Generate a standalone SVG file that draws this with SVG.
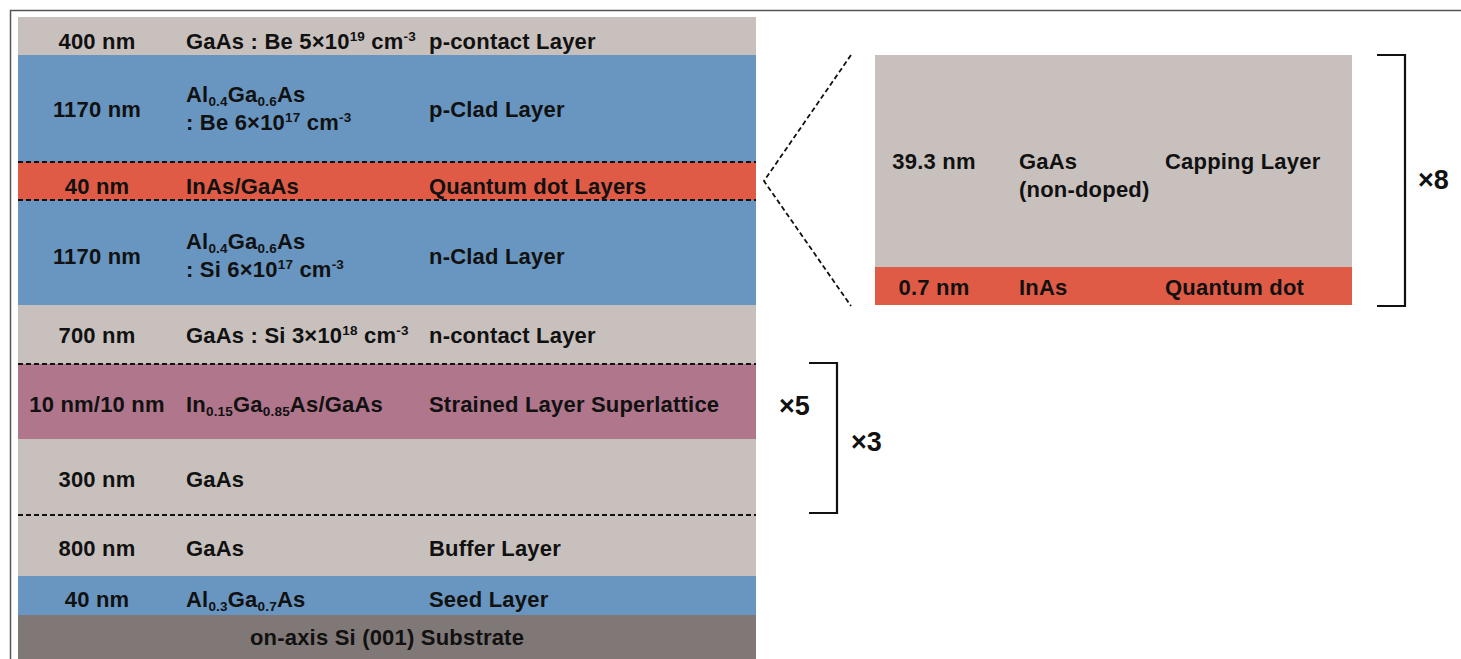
<svg xmlns="http://www.w3.org/2000/svg" width="1461" height="659" viewBox="0 0 1461 659">
<style>
.t{font-family:"Liberation Sans",Arial,sans-serif;font-size:22px;font-weight:bold;fill:#111;letter-spacing:0.2px}
.c{text-anchor:middle}
.s{font-size:13.5px}
.m{font-family:"Liberation Sans",Arial,sans-serif;font-size:27px;font-weight:bold;fill:#111}
.gray{fill:#c8c0bd}.blue{fill:#6896c0}.red{fill:#e05b46}.mauve{fill:#b0768c}.sub{fill:#807876}
.dash{stroke:#111;stroke-width:1.8;stroke-dasharray:5 3;fill:none}
.br{stroke:#111;stroke-width:2.2;fill:none}
</style>
<rect width="1461" height="659" fill="#fff"/>
<path d="M10.5 659 V10.5 H1461" fill="none" stroke="#555" stroke-width="1.5"/>
<g id="p-contact"><rect class="gray" x="18" y="17" width="738" height="38"/>
<text class="t c" x="97" y="49">400 nm</text>
<text class="t" x="186" y="49">GaAs : Be 5×10<tspan class="s" dy="-8">19</tspan><tspan dy="8"> cm</tspan><tspan class="s" dy="-8">-3</tspan></text>
<text class="t" x="429" y="49">p-contact Layer</text></g>
<g id="p-clad"><rect class="blue" x="18" y="55" width="738" height="107"/>
<text class="t c" x="97" y="117">1170 nm</text>
<text class="t" x="186" y="102">Al<tspan class="s" dy="4">0.4</tspan><tspan dy="-4">Ga</tspan><tspan class="s" dy="4">0.6</tspan><tspan dy="-4">As</tspan></text>
<text class="t" x="186" y="130">: Be 6×10<tspan class="s" dy="-8">17</tspan><tspan dy="8"> cm</tspan><tspan class="s" dy="-8">-3</tspan></text>
<text class="t" x="429" y="117">p-Clad Layer</text></g>
<g id="qd"><rect class="red" x="18" y="162" width="738" height="38"/>
<text class="t c" x="97" y="194">40 nm</text>
<text class="t" x="186" y="194">InAs/GaAs</text>
<text class="t" x="429" y="194">Quantum dot Layers</text></g>
<g id="n-clad"><rect class="blue" x="18" y="200" width="738" height="105"/>
<text class="t c" x="97" y="264">1170 nm</text>
<text class="t" x="186" y="249">Al<tspan class="s" dy="4">0.4</tspan><tspan dy="-4">Ga</tspan><tspan class="s" dy="4">0.6</tspan><tspan dy="-4">As</tspan></text>
<text class="t" x="186" y="277">: Si 6×10<tspan class="s" dy="-8">17</tspan><tspan dy="8"> cm</tspan><tspan class="s" dy="-8">-3</tspan></text>
<text class="t" x="429" y="264">n-Clad Layer</text></g>
<g id="n-contact"><rect class="gray" x="18" y="305" width="738" height="59"/>
<text class="t c" x="97" y="343">700 nm</text>
<text class="t" x="186" y="343">GaAs : Si 3×10<tspan class="s" dy="-8">18</tspan><tspan dy="8"> cm</tspan><tspan class="s" dy="-8">-3</tspan></text>
<text class="t" x="429" y="343">n-contact Layer</text></g>
<g id="sls"><rect class="mauve" x="18" y="364" width="738" height="75"/>
<text class="t c" x="97" y="412">10 nm/10 nm</text>
<text class="t" x="186" y="412">In<tspan class="s" dy="4">0.15</tspan><tspan dy="-4">Ga</tspan><tspan class="s" dy="4">0.85</tspan><tspan dy="-4">As/GaAs</tspan></text>
<text class="t" x="429" y="412">Strained Layer Superlattice</text></g>
<g id="gaas300"><rect class="gray" x="18" y="439" width="738" height="76"/>
<text class="t c" x="97" y="487">300 nm</text>
<text class="t" x="186" y="487">GaAs</text></g>
<g id="buffer"><rect class="gray" x="18" y="515" width="738" height="61"/>
<text class="t c" x="97" y="556">800 nm</text>
<text class="t" x="186" y="556">GaAs</text>
<text class="t" x="429" y="556">Buffer Layer</text></g>
<g id="seed"><rect class="blue" x="18" y="576" width="738" height="39"/>
<text class="t c" x="97" y="607">40 nm</text>
<text class="t" x="186" y="607">Al<tspan class="s" dy="4">0.3</tspan><tspan dy="-4">Ga</tspan><tspan class="s" dy="4">0.7</tspan><tspan dy="-4">As</tspan></text>
<text class="t" x="429" y="607">Seed Layer</text></g>
<g id="substrate"><rect class="sub" x="18" y="615" width="738" height="44"/>
<text class="t c" x="387" y="645">on-axis Si (001) Substrate</text></g>
<g id="capping"><rect class="gray" x="875" y="55" width="477" height="212"/>
<text class="t c" x="934" y="169">39.3 nm</text>
<text class="t" x="1019" y="169">GaAs</text>
<text class="t" x="1019" y="197">(non-doped)</text>
<text class="t" x="1165" y="169">Capping Layer</text></g>
<g id="qdot"><rect class="red" x="875" y="267" width="477" height="38"/>
<text class="t c" x="934" y="295">0.7 nm</text>
<text class="t" x="1019" y="295">InAs</text>
<text class="t" x="1165" y="295">Quantum dot</text></g>
<g id="connectors">
<path class="dash" d="M18 162 H756 M18 200 H756 M18 364 H756 M18 515 H756"/>
<path class="dash" d="M851 55 L764 181 L851 306"/>
<path class="br" d="M1377 55 H1405 V306 H1377"/>
<path class="br" d="M809 363 H837 V513 H809"/>
</g>
<g id="labels">
<text class="m" x="779" y="415">×5</text>
<text class="m" x="851" y="451">×3</text>
<text class="m" x="1418" y="189">×8</text>
</g>
</svg>
